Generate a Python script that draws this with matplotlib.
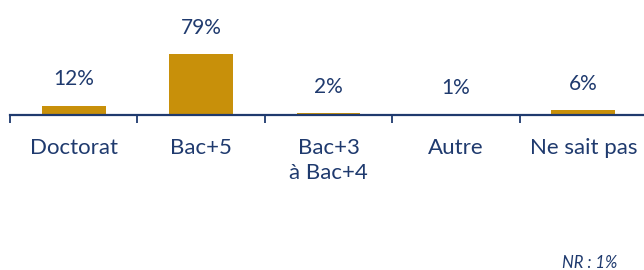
import matplotlib
matplotlib.use("Agg")
import matplotlib.pyplot as plt
from matplotlib.ticker import FixedLocator

categories = ["Doctorat", "Bac+5", "Bac+3\nà Bac+4", "Autre", "Ne sait pas"]
values = [12, 79, 2, 1, 6]
value_labels = ["12%", "79%", "2%", "1%", "6%"]
note = "NR : 1%"

navy = "#1F3A6E"
gold = "#C8900A"

plt.rcParams['font.family'] = ['Lato', 'DejaVu Sans']

fig = plt.figure(figsize=(6.44, 2.70), dpi=100)
ax = fig.add_axes([10/644, 155/270, 637/644, 115/270])
x = list(range(len(categories)))
ax.bar(x, values, width=0.5, color=gold)
ax.set_xlim(-0.5, 4.5)
ax.set_ylim(0, 79 * 115 / 61)

for xi, v, lab in zip(x, values, value_labels):
    ax.annotate(lab, (xi, v), xytext=(0, 19), textcoords="offset points",
                ha="center", va="center", fontsize=15, color=navy)

for s in ["top", "left", "right"]:
    ax.spines[s].set_visible(False)
ax.spines["bottom"].set_color(navy)
ax.spines["bottom"].set_linewidth(1.6)
ax.set_yticks([])
ax.set_xticks(x)
ax.set_xticklabels(categories, fontsize=16, color=navy, linespacing=1.3)
ax.tick_params(axis="x", which="major", length=0, pad=16.5)
ax.xaxis.set_minor_locator(FixedLocator([-0.5, 0.5, 1.5, 2.5, 3.5]))
ax.tick_params(axis="x", which="minor", length=6, width=1.3, color=navy, direction="out")

fig.text(590/644, 1 - 263/270, note, ha="center", va="center", fontsize=12,
         style="italic", color=navy)

fig.savefig("out.png", dpi=100)
